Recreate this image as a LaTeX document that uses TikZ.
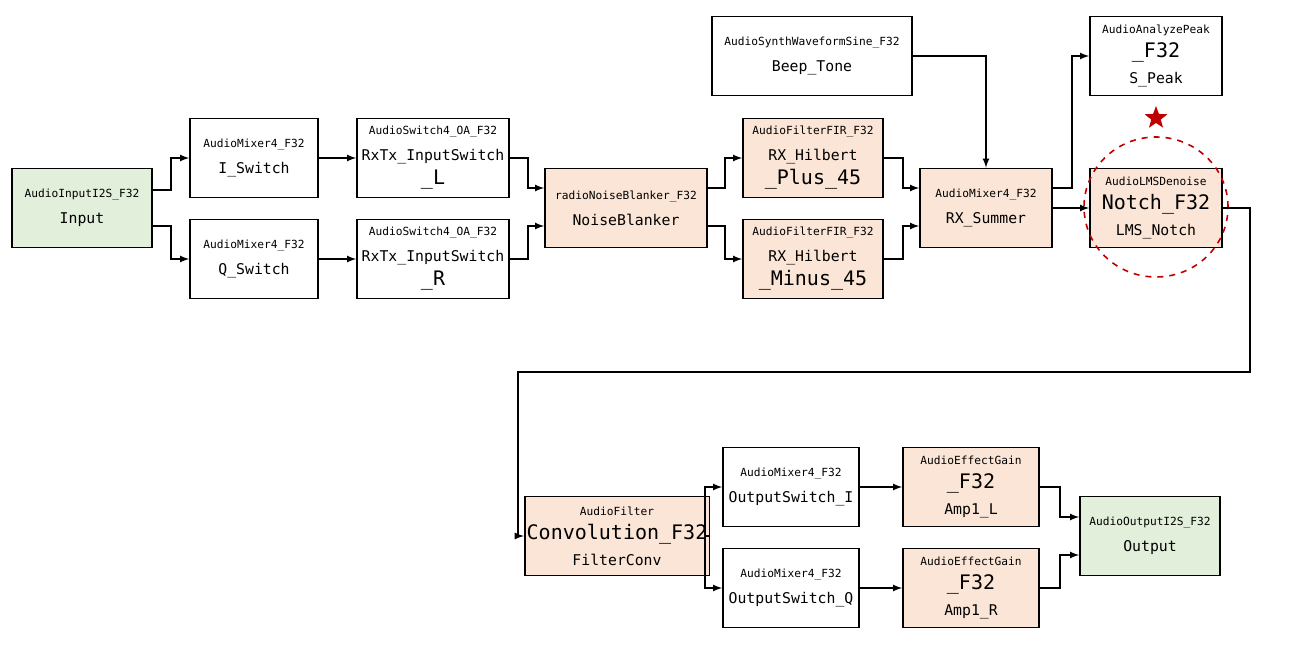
\documentclass[tikz,border=0pt]{standalone}
\usepackage{fontspec}
\setmainfont{DejaVu Sans Mono}
\usepackage{tikz}
\usetikzlibrary{arrows, positioning, calc, shapes.geometric}
\definecolor{ingreen}{HTML}{E2EFDA}
\definecolor{procorange}{HTML}{FBE5D6}
\definecolor{markred}{HTML}{C00000}
\newcommand{\blk}[2]{\fontsize{5.6}{6.6}\selectfont #1\\[1pt]\fontsize{7.4}{8.6}\selectfont #2}

\begin{document}
\begin{tikzpicture}[
    x=0.5pt, y=-0.5pt,
    box/.style={draw, thick, rectangle, minimum width=66pt, minimum height=39.5pt, align=center, inner sep=1pt},
    io/.style={box, fill=ingreen},
    dsp/.style={box, fill=procorange},
    arrow/.style={->, >=latex, semithick},
]
\useasboundingbox (0,0) rectangle (1300,648);

% First row
\node[io, minimum width=70pt] (input) at (82,208) {\blk{AudioInputI2S\_F32}{Input}};
\node[box, minimum width=64pt] (iswitch) at (254,158) {\blk{AudioMixer4\_F32}{I\_Switch}};
\node[box, minimum width=64pt] (qswitch) at (254,259) {\blk{AudioMixer4\_F32}{Q\_Switch}};
\node[box, minimum width=76pt] (rxtxl) at (433,158) {\blk{AudioSwitch4\_OA\_F32}{RxTx\_InputSwitch\\\_L}};
\node[box, minimum width=76pt] (rxtxr) at (433,259) {\blk{AudioSwitch4\_OA\_F32}{RxTx\_InputSwitch\\\_R}};
\node[dsp, minimum width=81pt] (blanker) at (626,208) {\blk{radioNoiseBlanker\_F32}{NoiseBlanker}};
\node[dsp, minimum width=70pt] (hplus) at (813,158) {\blk{AudioFilterFIR\_F32}{RX\_Hilbert\\\_Plus\_45}};
\node[dsp, minimum width=70pt] (hminus) at (813,259) {\blk{AudioFilterFIR\_F32}{RX\_Hilbert\\\_Minus\_45}};
\node[dsp, minimum width=66pt] (summer) at (986,208) {\blk{AudioMixer4\_F32}{RX\_Summer}};
\node[box, minimum width=100pt] (beep) at (812,56) {\blk{AudioSynthWaveformSine\_F32}{Beep\_Tone}};
\node[box, minimum width=66pt] (speak) at (1156,56) {\blk{AudioAnalyzePeak\\\_F32}{S\_Peak}};
\node[dsp, minimum width=66pt] (lms) at (1156,208) {\blk{AudioLMSDenoise\\Notch\_F32}{LMS\_Notch}};

% Highlight
\node[draw=markred, thick, dashed, ellipse, minimum width=72pt, minimum height=70pt] (ring) at (1156,207) {};
\node[star, star points=5, star point ratio=2.4, fill=markred, inner sep=0pt, minimum size=12pt] (mark) at (1156,118) {};

% Second row
\node[dsp, minimum width=70pt] (conv) at (617,536) {\blk{AudioFilter\\Convolution\_F32}{FilterConv}};
\node[box, minimum width=68pt] (outi) at (791,487) {\blk{AudioMixer4\_F32}{OutputSwitch\_I}};
\node[box, minimum width=68pt] (outq) at (791,588) {\blk{AudioMixer4\_F32}{OutputSwitch\_Q}};
\node[dsp, minimum width=68pt] (ampl) at (971,487) {\blk{AudioEffectGain\\\_F32}{Amp1\_L}};
\node[dsp, minimum width=68pt] (ampr) at (971,588) {\blk{AudioEffectGain\\\_F32}{Amp1\_R}};
\node[io, minimum width=70pt] (output) at (1150,536) {\blk{AudioOutputI2S\_F32}{Output}};

% Arrows
\draw[arrow] ([yshift=9pt]input.east) -| (171,158) -- (iswitch.west);
\draw[arrow] ([yshift=-9pt]input.east) -| (171,259) -- (qswitch.west);
\draw[arrow] (iswitch) -- (rxtxl);
\draw[arrow] (qswitch) -- (rxtxr);
\draw[arrow] (rxtxl.east) -| (528,188) -- ([yshift=10pt]blanker.west);
\draw[arrow] (rxtxr.east) -| (528,226) -- ([yshift=-9pt]blanker.west);
\draw[arrow] ([yshift=10pt]blanker.east) -| (725,158) -- (hplus.west);
\draw[arrow] ([yshift=-9pt]blanker.east) -| (725,259) -- (hminus.west);
\draw[arrow] (hplus.east) -| (903,188) -- ([yshift=10pt]summer.west);
\draw[arrow] (hminus.east) -| (903,226) -- ([yshift=-9pt]summer.west);
\draw[arrow] (beep.east) -| (summer.north);
\draw[arrow] ([yshift=10pt]summer.east) -| (1072,56) -- (speak.west);
\draw[arrow] (summer.east) -- (lms.west);
\draw[arrow] (lms.east) -| (1250,372) -| (518,536) -- (conv.west);
\draw[arrow] (conv.east) -| (705,487) -- (outi.west);
\draw[arrow] (conv.east) -| (705,588) -- (outq.west);
\draw[arrow] (outi) -- (ampl);
\draw[arrow] (outq) -- (ampr);
\draw[arrow] (ampl.east) -| (1060,517) -- ([yshift=9.5pt]output.west);
\draw[arrow] (ampr.east) -| (1060,555) -- ([yshift=-9.5pt]output.west);

\end{tikzpicture}
\end{document}
